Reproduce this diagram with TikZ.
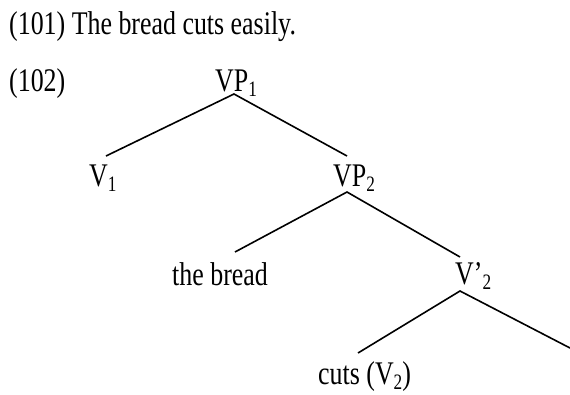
\documentclass[tikz,border=0pt]{standalone}
\usepackage{fontspec}
\setmainfont{Liberation Serif}[FakeStretch=0.785]
\newcommand{\mysub}[1]{\raisebox{-0.18em}{\fontsize{22}{22}\selectfont #1}}
\begin{document}
\begin{tikzpicture}[x=1pt,y=-1pt,
  lbl/.style={inner sep=0pt,anchor=base west,font=\fontsize{33}{39}\selectfont},
  branch/.style={line width=1.6pt}]
\useasboundingbox (0,0) rectangle (570,394);
% texts
\node[lbl] (ex101) at (9,34) {(101) The bread cuts easily.};
\node[lbl] (ex102) at (9,91) {(102)};
\node[lbl] (vp1) at (215,91) {VP\mysub{1}};
\node[lbl] (v1) at (89,186) {V\mysub{1}};
\node[lbl] (vp2) at (333,186) {VP\mysub{2}};
\node[lbl] (np) at (172,285) {the bread};
\node[lbl] (vbar) at (455,284) {V’\mysub{2}};
\node[lbl] (cuts) at (318,384) {cuts (V\mysub{2})};
% branch points
\coordinate (vp1b) at (234,94);
\coordinate (v1t) at (106,156);
\coordinate (vp2t) at (347,156);
\coordinate (vp2b) at (347,192);
\coordinate (npt) at (235,252);
\coordinate (vbart) at (460,257);
\coordinate (vbarb) at (460,291);
\coordinate (cutst) at (358,353);
\coordinate (rightt) at (570,348);
% branches
\draw[branch] (v1t) -- (vp1b) -- (vp2t);
\draw[branch] (npt) -- (vp2b) -- (vbart);
\draw[branch] (cutst) -- (vbarb) -- (rightt);
\end{tikzpicture}
\end{document}
